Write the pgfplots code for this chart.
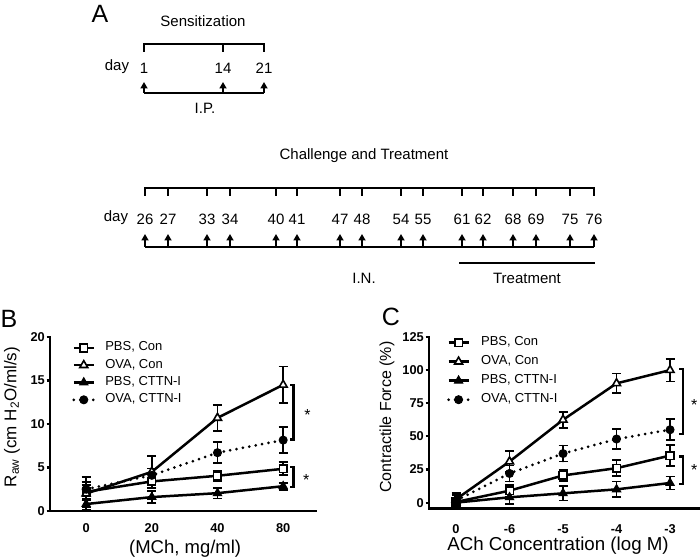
\documentclass[border=0pt]{standalone}
\usepackage{fontspec}
\setmainfont{Liberation Sans}
\usepackage{pgfplots}
\pgfplotsset{compat=1.18}
\usetikzlibrary{arrows.meta}

\newcommand{\fA}{\fontsize{15}{17}\selectfont}
\newcommand{\fL}{\fontsize{25}{28}\selectfont}

\pgfplotsset{
  prism/.style={
    scale only axis,
    axis x line*=bottom, axis y line*=left,
    axis line style={line width=2.4pt, line cap=rect},
    tick align=outside,
    major tick length=3.5pt,
    every tick/.style={line width=2.2pt, black},
    xtick style={draw=none},
    tick label style={font=\fontsize{12.8}{14}\selectfont\bfseries},
    /pgf/number format/assume math mode=true,
    clip=false,
    every y tick label/.append style={inner sep=1.5pt},
    every x tick label/.append style={yshift=-6pt},
    legend cell align=left,
    legend image code/.code={\draw[mark repeat=2,mark phase=2,##1] plot coordinates {(0pt,0pt) (10pt,0pt) (20pt,0pt)};},
    every axis plot/.append style={line width=2.5pt, black},
    pc/.style={solid, mark=square*, mark size=3.8pt, mark options={fill=white, solid, line width=1.6pt}},
    oc/.style={solid, mark=triangle*, mark size=4.6pt, mark options={fill=white, solid, line width=1.6pt}},
    pt/.style={solid, mark=triangle*, mark size=4.6pt, mark options={fill=black, solid, line width=1.2pt}},
    ot/.style={line width=3pt, dash pattern=on 0pt off 6.5pt, line cap=round, mark=*, mark size=4pt, mark options={fill=black, solid, line width=1pt}},
    eb/.style={error bars/.cd, y dir=both, y explicit,
      error bar style={line width=1.7pt, solid},
      error mark options={rotate=90, mark size=4.5pt, line width=1.7pt, solid}},
  }
}

\begin{document}
\begin{tikzpicture}[x=1pt,y=1pt]
% ---------------- Panel A (schematic) ----------------
\begin{scope}[shift={(0,559)},yscale=-1,line width=2.5pt]
  \node[font=\fL] at (100,14) {A};
  % Sensitization
  \node[font=\fA] at (203,21) {Sensitization};
  \draw (144,52) -- (144,44) -- (264,44) -- (264,52);
  \draw (223,44) -- (223,52);
  \node[font=\fA] at (117,67) {day};
  \foreach \x/\d in {144/1,223/14,264/21} {
    \node[font=\fA] at (\x,68) {\d};
    \draw[line width=2.2pt,-{Triangle[width=7pt,length=6.5pt]}] (\x,93) -- (\x,82);
  }
  \draw (144,93) -- (264,93);
  \node[font=\fA] at (205,108) {I.P.};
  % Challenge and Treatment
  \node[font=\fA] at (364,156) {Challenge and Treatment};
  \draw (145,196) -- (145,188) -- (594,188) -- (594,196);
  \node[font=\fA] at (116,218) {day};
  \foreach \x/\d in {145/26,168/27,207/33,230/34,276/40,297/41,340/47,362/48,401/54,423/55,462/61,483/62,513/68,536/69,570/75,594/76} {
    \draw (\x,188) -- (\x,196);
    \node[font=\fA] at (\x,219) {\d};
    \draw[line width=2.2pt,-{Triangle[width=7pt,length=6.5pt]}] (\x,247) -- (\x,234);
  }
  \draw (145,247) -- (594,247);
  \draw (459,263) -- (595,263);
  \node[font=\fA] at (364,278) {I.N.};
  \node[font=\fA] at (527,278) {Treatment};
  % panel letters
  \node[font=\fL] at (9,319) {B};
  \node[font=\fL] at (391,317) {C};
\end{scope}

% ---------------- Panel B ----------------
\begin{axis}[prism,
  at={(50pt,48pt)}, anchor=south west,
  width=266pt, height=174pt,
  xmin=-0.55, xmax=3.5, ymin=0, ymax=20,
  xtick={0,1,2,3}, xticklabels={0,20,40,80},
  ytick={0,5,10,15,20},
  xlabel={(MCh, mg/ml)},
  ylabel={R\textsubscript{aw} (cm H\textsubscript{2}O/ml/s)},
  every axis x label/.style={at={(axis description cs:0.508,-0.218)}, anchor=center, font=\fontsize{18.5}{20}\selectfont},
  every axis y label/.style={at={(axis description cs:-0.143,0.54)}, anchor=center, rotate=90, font=\fontsize{17}{20}\selectfont},
  legend style={at={(0.083,0.97)}, anchor=north west, draw=none, fill=none, inner sep=0pt,
    font=\fontsize{13}{14}\selectfont, row sep=6.3pt,
    nodes={inner sep=0pt, text height=8.5pt, text depth=2.5pt},
    /tikz/every odd column/.append style={column sep=10pt}},
]
\addplot[pc, eb] coordinates {(0,2.2) +- (0,0.8) (1,3.4) +- (0,0.8) (2,4.05) +- (0,0.6) (3,4.85) +- (0,0.75)};
\addlegendentry{PBS, Con}
\addplot[oc, eb] coordinates {(0,2.0) +- (0,1.9) (1,4.5) +- (0,1.8) (2,10.7) +- (0,1.5) (3,14.5) +- (0,2.1)};
\addlegendentry{OVA, Con}
\addplot[pt, eb] coordinates {(0,0.8) +- (0,0.4) (1,1.6) +- (0,0.7) (2,2.05) +- (0,0.6) (3,2.85) +- (0,0.4)};
\addlegendentry{PBS, CTTN-I}
\addplot[ot, eb] coordinates {(0,2.5) +- (0,0.8) (1,4.1) +- (0,0.8) (2,6.7) +- (0,1.2) (3,8.15) +- (0,1.5)};
\addlegendentry{OVA, CTTN-I}
\draw[line width=2.4pt] (axis cs:3.11,14.5) -| (axis cs:3.155,8.2) -- (axis cs:3.11,8.2);
\draw[line width=2.4pt] (axis cs:3.11,5.05) -| (axis cs:3.155,2.76) -- (axis cs:3.11,2.76);
\node[font=\fontsize{16}{16}\selectfont, anchor=base, yshift=-9pt] at (axis cs:3.37,11.4) {*};
\node[font=\fontsize{16}{16}\selectfont, anchor=base, yshift=-9pt] at (axis cs:3.35,4.0) {*};
\end{axis}

% ---------------- Panel C ----------------
\begin{axis}[prism,
  at={(429pt,50.7pt)}, anchor=south west,
  width=271pt, height=171.3pt,
  xmin=-0.505, xmax=4.56, ymin=-4.3, ymax=125,
  xtick={0,1,2,3,4}, xticklabels={0,-6,-5,-4,-3},
  ytick={0,25,50,75,100,125},
  every x tick label/.append style={yshift=-3pt},
  xlabel={ACh Concentration (log M)},
  ylabel={Contractile Force (\%)},
  every axis x label/.style={at={(axis description cs:0.476,-0.218)}, anchor=center, font=\fontsize{18.7}{20}\selectfont},
  every axis y label/.style={at={(axis description cs:-0.155,0.533)}, anchor=center, rotate=90, font=\fontsize{16}{20}\selectfont},
  legend style={at={(0.066,1.0)}, anchor=north west, draw=none, fill=none, inner sep=0pt,
    font=\fontsize{13}{14}\selectfont, row sep=8pt,
    nodes={inner sep=0pt, text height=8.5pt, text depth=2.5pt},
    /tikz/every odd column/.append style={column sep=11pt}},
]
\addplot[pc, eb] coordinates {(0,0.5) +- (0,3) (1,9) +- (0,4.5) (2,20.5) +- (0,4) (3,26) +- (0,6) (4,35.5) +- (0,8)};
\addlegendentry{PBS, Con}
\addplot[oc, eb] coordinates {(0,2.5) +- (0,5) (1,31) +- (0,8) (2,62.5) +- (0,6) (3,90) +- (0,7.5) (4,100) +- (0,8.5)};
\addlegendentry{OVA, Con}
\addplot[pt, eb] coordinates {(0,0) +- (0,2) (1,4) +- (0,5) (2,7) +- (0,5.5) (3,10) +- (0,6) (4,14.8) +- (0,5)};
\addlegendentry{PBS, CTTN-I}
\addplot[ot, eb] coordinates {(0,1.5) +- (0,4) (1,22) +- (0,6) (2,37) +- (0,6) (3,48) +- (0,7.5) (4,55) +- (0,8)};
\addlegendentry{OVA, CTTN-I}
\draw[line width=2.4pt] (axis cs:4.17,100.9) -| (axis cs:4.245,51.8) -- (axis cs:4.17,51.8);
\draw[line width=2.4pt] (axis cs:4.17,34.7) -| (axis cs:4.245,14.1) -- (axis cs:4.17,14.1);
\node[font=\fontsize{16}{16}\selectfont, anchor=base, yshift=-9pt] at (axis cs:4.45,76) {*};
\node[font=\fontsize{16}{16}\selectfont, anchor=base, yshift=-9pt] at (axis cs:4.45,27) {*};
\end{axis}

\pgfresetboundingbox
\useasboundingbox (0,0) rectangle (700,559);
\end{tikzpicture}
\end{document}
